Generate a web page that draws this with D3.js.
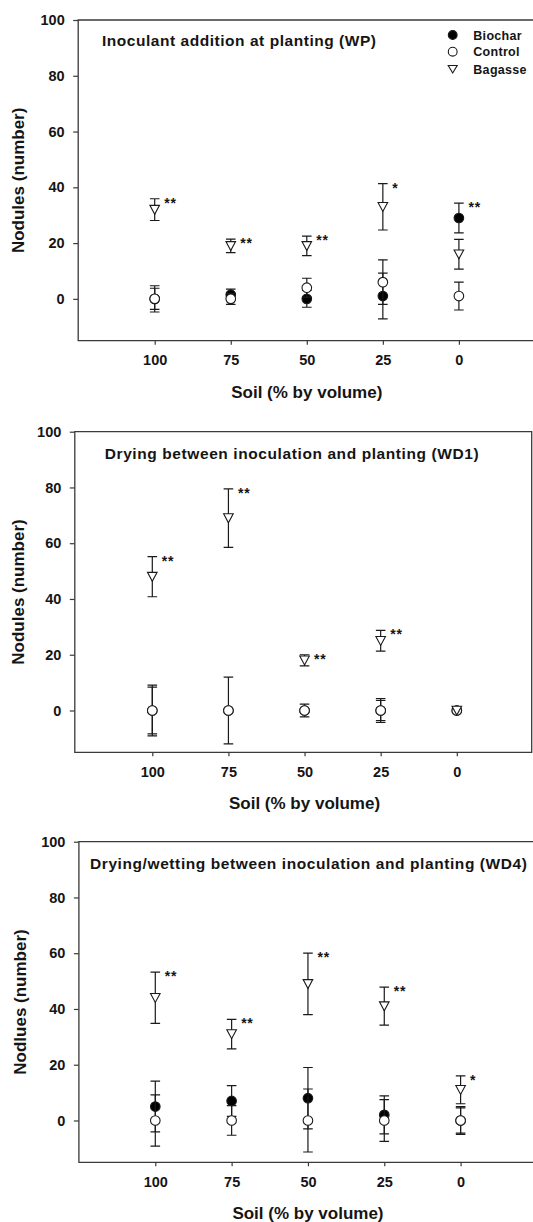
<!DOCTYPE html>
<html><head><meta charset="utf-8">
<script src="https://cdn.jsdelivr.net/npm/d3@7"></script>
<style>
body{margin:0;background:#fff;overflow:hidden}
svg{display:block;overflow:hidden}
text{font-family:"Liberation Sans",Arial,sans-serif;font-weight:bold;fill:#151515}
</style>
</head><body><svg id="c" width="533" height="1222" viewBox="0 0 533 1222"></svg>
<script>
// ---------- data ----------
const soil = [100, 75, 50, 25, 0];
const yTicks = [0, 20, 40, 60, 80, 100];
const seriesNames = ["Biochar", "Control", "Bagasse"];
const panelTitles = [
  "Inoculant addition at planting (WP)",
  "Drying between inoculation and planting (WD1)",
  "Drying/wetting between inoculation and planting (WD4)"
];
const yLabels = ["Nodules (number)", "Nodules (number)", "Nodlues (number)"];
const xLabel = "Soil (% by volume)";

// WP
const wpBiochar = [0, 1.5, 0, 1, 29];
const wpBiocharErr = [3.8, 2, 3, 8.2, 5.3];
const wpBiocharStars = ["", "", "", "", "**"];
const wpControl = [0, 0, 4, 6, 1];
const wpControlErr = [4.7, 2, 3.4, 8, 5];
const wpControlStars = ["", "", "", "", ""];
const wpBagasse = [32, 19, 19, 33, 16];
const wpBagasseErr = [3.9, 2.4, 3.5, 8.3, 5.3];
const wpBagasseStars = ["**", "**", "**", "*", ""];

// WD1
const wd1Biochar = [0, 0, 0, 0, 0];
const wd1BiocharErr = [8.4, 0, 0, 3.6, 0];
const wd1BiocharStars = ["", "", "", "", ""];
const wd1Control = [0, 0, 0, 0, 0];
const wd1ControlErr = [9.1, 12, 2.3, 4.3, 0];
const wd1ControlStars = ["", "", "", "", ""];
const wd1Bagasse = [48, 69, 18, 25, 0];
const wd1BagasseErr = [7.2, 10.5, 2, 3.7, 0];
const wd1BagasseStars = ["**", "**", "**", "**", ""];

// WD4
const wd4Biochar = [5, 7, 8, 2, 0];
const wd4BiocharErr = [9.1, 5.5, 11, 6.8, 4.5];
const wd4BiocharStars = ["", "", "", "", ""];
const wd4Control = [0, 0, 0, 0, 0];
const wd4ControlErr = [9.2, 5.3, 11.3, 7.5, 5];
const wd4ControlStars = ["", "", "", "", ""];
const wd4Bagasse = [44, 31, 49, 41, 11];
const wd4BagasseErr = [9.2, 5.3, 11, 6.8, 5];
const wd4BagasseStars = ["**", "**", "**", "**", "*"];

// ---------- build ----------
const panels = [
  {series: [[wpBiochar, wpBiocharErr, wpBiocharStars], [wpControl, wpControlErr, wpControlStars], [wpBagasse, wpBagasseErr, wpBagasseStars]], legend: true},
  {series: [[wd1Biochar, wd1BiocharErr, wd1BiocharStars], [wd1Control, wd1ControlErr, wd1ControlStars], [wd1Bagasse, wd1BagasseErr, wd1BagasseStars]], legend: false},
  {series: [[wd4Biochar, wd4BiocharErr, wd4BiocharStars], [wd4Control, wd4ControlErr, wd4ControlStars], [wd4Bagasse, wd4BagasseErr, wd4BagasseStars]], legend: false}
];

const layouts = [
  {top: 20, bottom: 340.7, left: 78.2, right: 560, rightBorder: false, x100: 154.7, x0: 458.9, titleX: 102, titleY: 45.5, titleW: 274},
  {top: 431.7, bottom: 752.3, left: 74.8, right: 531.7, rightBorder: true, x100: 152.3, x0: 456.8, titleX: 104.7, titleY: 458.5, titleW: 374},
  {top: 841.7, bottom: 1162.3, left: 78.9, right: 560, rightBorder: false, x100: 155.3, x0: 460.6, titleX: 90, titleY: 869, titleW: 437}
];

const svg = d3.select("#c");
const INK = "#1a1a1a";
const AX = "#3a3a3a";

function drawMarker(g, type, cx, cy) {
  if (type === 2) {
    const hw = 4.8, ht = 4.3, hb = 4.6;
    g.append("path").attr("d", `M${cx - hw},${cy - ht}L${cx + hw},${cy - ht}L${cx},${cy + hb}Z`)
      .attr("fill", "#fff").attr("stroke", INK).attr("stroke-width", 1.1);
  } else {
    g.append("circle").attr("cx", cx).attr("cy", cy).attr("r", 4.8)
      .attr("fill", type === 0 ? "#000" : "#fff")
      .attr("stroke", INK).attr("stroke-width", 1.1);
  }
}

panels.forEach((p, i) => {
  const L = layouts[i];
  const x = d3.scaleLinear().domain([100, 0]).range([L.x100, L.x0]);
  const y = d3.scaleLinear().domain([-15, 100]).range([L.bottom, L.top]);
  const g = svg.append("g");

  // frame
  const framePath = L.rightBorder
    ? `M${L.left},${L.top}H${L.right}V${L.bottom}H${L.left}Z`
    : `M${L.right},${L.top}H${L.left}V${L.bottom}H${L.right}`;
  g.append("path").attr("d", framePath)
    .attr("fill", "none").attr("stroke", AX).attr("stroke-width", 1.3);

  // axes
  const ya = g.append("g").attr("transform", `translate(${L.left},0)`)
    .call(d3.axisLeft(y).tickValues(yTicks).tickSize(5).tickSizeOuter(0).tickPadding(8.5));
  ya.select(".domain").remove();
  ya.selectAll("line").attr("stroke", AX).attr("stroke-width", 1.2);
  ya.selectAll("text").attr("font-size", 14.5).attr("fill", "#151515")
    .attr("font-family", '"Liberation Sans",Arial,sans-serif').attr("font-weight", "bold");

  const xa = g.append("g").attr("transform", `translate(0,${L.bottom})`)
    .call(d3.axisBottom(x).tickValues(soil).tickFormat(d3.format("d")).tickSize(4).tickSizeOuter(0).tickPadding(10));
  xa.select(".domain").remove();
  xa.selectAll("line").attr("stroke", AX).attr("stroke-width", 1.2);
  xa.selectAll("text").attr("font-size", 14.5).attr("fill", "#151515")
    .attr("font-family", '"Liberation Sans",Arial,sans-serif').attr("font-weight", "bold");

  // axis titles
  g.append("text").attr("x", x(50)).attr("y", L.bottom + 57)
    .attr("text-anchor", "middle").attr("font-size", 17).text(xLabel);
  g.append("text")
    .attr("transform", `translate(${i === 2 ? 25.5 : 24},${(L.top + L.bottom) / 2}) rotate(-90)`)
    .attr("text-anchor", "middle").attr("font-size", 17).text(yLabels[i]);

  // panel title
  g.append("text").attr("x", L.titleX).attr("y", L.titleY)
    .attr("font-size", 15.5).attr("textLength", L.titleW).attr("lengthAdjust", "spacing")
    .text(panelTitles[i]);

  // series (Biochar, Control, Bagasse drawn in that order)
  p.series.forEach((s, k) => {
    const [vals, errs, stars] = s;
    const sg = g.append("g");
    soil.forEach((c, j) => {
      const cx = x(c);
      const e = errs[j];
      if (e > 0) {
        const yt = y(vals[j] + e), yb = y(vals[j] - e);
        sg.append("path")
          .attr("d", `M${cx},${yt}V${yb}M${cx - 4.8},${yt}H${cx + 4.8}M${cx - 4.8},${yb}H${cx + 4.8}`)
          .attr("stroke", INK).attr("stroke-width", 1.2).attr("fill", "none");
      }
    });
    soil.forEach((c, j) => {
      drawMarker(sg, k, x(c), y(vals[j]));
      if (stars[j]) {
        sg.append("text").attr("x", x(c) + 9.5).attr("y", y(vals[j] + errs[j]) + 9)
          .attr("font-size", 14).attr("letter-spacing", 0.8).text(stars[j]);
      }
    });
  });

  // legend
  if (p.legend) {
    const lg = g.append("g");
    const rowY = [35, 51.7, 69];
    seriesNames.forEach((n, k) => {
      if (k === 2) {
        lg.append("path").attr("d", `M${452.7 - 4.5},${rowY[k] - 3.5}L${452.7 + 4.5},${rowY[k] - 3.5}L${452.7},${rowY[k] + 4}Z`)
          .attr("fill", "#fff").attr("stroke", INK).attr("stroke-width", 1.1);
      } else {
        lg.append("circle").attr("cx", 452.7).attr("cy", rowY[k]).attr("r", 4.4)
          .attr("fill", k === 0 ? "#000" : "#fff").attr("stroke", INK).attr("stroke-width", 1.1);
      }
      lg.append("text").attr("x", 473.3).attr("y", rowY[k] + 4.5)
        .attr("font-size", 12.5).attr("letter-spacing", 0.3).text(n);
    });
  }
});
</script></body></html>
